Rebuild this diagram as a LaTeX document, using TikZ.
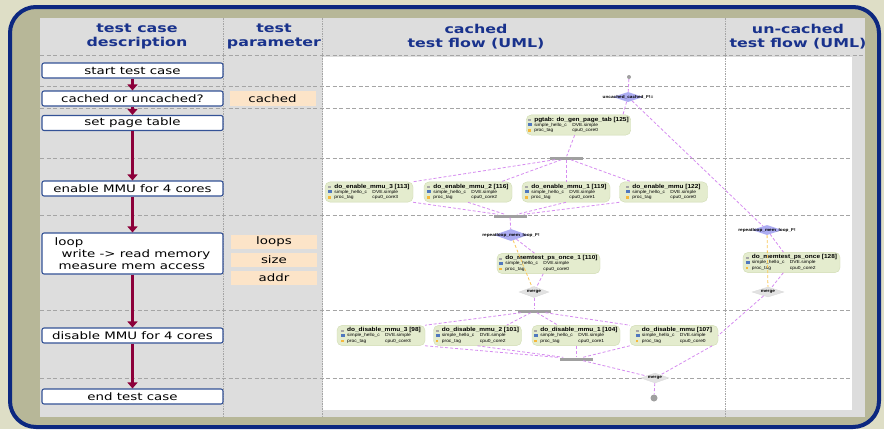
\documentclass[tikz,border=0pt]{standalone}
\usepackage{fontspec}
\setmainfont{DejaVu Sans}
\newfontfamily\umlfont[FakeStretch=1.12]{Liberation Sans}
\newfontfamily\widefont[FakeStretch=1.3]{DejaVu Sans}
\usetikzlibrary{arrows.meta,positioning,shapes.geometric}

\definecolor{khaki}{RGB}{222,222,198}
\definecolor{framblue}{RGB}{12,40,128}
\definecolor{olivebg}{RGB}{183,183,152}
\definecolor{panel}{RGB}{221,221,221}
\definecolor{headblue}{RGB}{25,50,140}
\definecolor{boxblue}{RGB}{52,82,150}
\definecolor{peach}{RGB}{252,228,200}
\definecolor{maroon}{RGB}{140,0,58}
\definecolor{sepgray}{RGB}{165,165,165}
\definecolor{flowpurple}{RGB}{214,140,240}
\definecolor{altorange}{RGB}{250,200,90}
\definecolor{actfill}{RGB}{228,236,206}
\definecolor{actline}{RGB}{208,220,178}
\definecolor{choiceblue}{RGB}{172,172,242}
\definecolor{mergegray}{RGB}{226,226,226}
\definecolor{bargray}{RGB}{160,160,160}
\definecolor{iconblue}{RGB}{80,120,190}
\definecolor{iconorange}{RGB}{245,185,60}

% body of one activity box of the UML flow
\newcommand{\actbody}[2]{%
  \begin{tabular}{@{}l@{\hspace{2pt}}p{38pt}@{}l@{}}
  \multicolumn{3}{@{}l@{}}{\textcolor{sepgray}{\rule{3pt}{2pt}}\hspace{3pt}{\fontsize{5.8}{6}\selectfont\bfseries #1}}\\
  \textcolor{iconblue}{\rule{4pt}{3pt}} & simple\_hello\_c & DVE.simple\\
  \textcolor{iconorange}{\rule{2.5pt}{2.5pt}} & proc\_tag & #2
  \end{tabular}}

\begin{document}
\begin{tikzpicture}[
  x=1pt, y=-1pt,
  stepbox/.style={draw=boxblue, line width=1.1pt, fill=white, rounded corners=2pt, minimum width=181pt, minimum height=15pt, inner sep=0pt, font=\widefont\fontsize{10.3}{11.8}\selectfont},
  param/.style={fill=peach, minimum width=86pt, minimum height=14pt, inner sep=0pt, font=\widefont\fontsize{10.3}{12}\selectfont},
  head/.style={align=center, text=headblue, font=\widefont\fontsize{12.2}{14}\selectfont\bfseries},
  seq/.style={draw=maroon, line width=2.6pt, -{Triangle[length=6pt,width=10pt]}},
  sep/.style={draw=sepgray, dash pattern=on 4pt off 2.5pt, line width=0.8pt},
  vsep/.style={draw=sepgray, dash pattern=on 1.5pt off 1pt, line width=0.7pt},
  act/.style={draw=actline, fill=actfill, rounded corners=5pt, inner sep=2pt, minimum width=88pt, minimum height=20pt, font=\umlfont\fontsize{4.4}{5.2}\selectfont},
  bar/.style={fill=bargray, minimum width=33pt, minimum height=3pt, inner sep=0pt},
  choice/.style={diamond, fill=choiceblue, minimum width=30pt, minimum height=10pt, inner sep=0pt},
  merge/.style={diamond, fill=mergegray, draw=white!85!black, line width=0.3pt, minimum width=30pt, minimum height=11pt, inner sep=0pt},
  tag/.style={inner sep=0pt, font=\umlfont\bfseries\fontsize{4.2}{5}\selectfont},
  flow/.style={draw=flowpurple, dash pattern=on 3pt off 2pt, line width=0.8pt},
  alt/.style={flow, draw=altorange}
]
\useasboundingbox (0,0) rectangle (884,429);
% frame and table background
\fill[khaki] (0,0) rectangle (884,429);
\draw[framblue, fill=olivebg, line width=4pt, rounded corners=26pt] (10,7) rectangle (879,427);
\fill[panel] (40,18) rectangle (865,417);
\fill[white] (323,57) rectangle (852,410);
\draw[sep] (40,55) -- (865,55);
\foreach \y in {86,108,158,215,310,378}
  \draw[sep] (40,\y) -- (852,\y);
\foreach \x in {223,322,725}
  \draw[vsep] (\x,18) -- (\x,417);

% column heads
\node[head] (hdesc) at (137,36) {test case\\description};
\node[head] (hparam) at (274,36) {test\\parameter};
\node[head] (hcached) at (476,37) {cached\\test flow (UML)};
\node[head] (huncached) at (798,37) {un-cached\\test flow (UML)};

% test case steps
\node[stepbox] (start) at (132.5,70.5) {start test case};
\node[stepbox] (cachq) at (132.5,98.5) {cached or uncached?};
\node[stepbox] (pgtab) at (132.5,123) {set page table};
\node[stepbox] (enmmu) at (132.5,188.5) {enable MMU for 4 cores};
\node[stepbox, minimum height=41pt, align=left] (loop) at (132.5,253.5) {loop\\\hspace{7pt}write -> read memory\\\hspace{4pt}measure mem access};
\node[stepbox] (dismmu) at (132.5,335.5) {disable MMU for 4 cores};
\node[stepbox] (stop) at (132.5,396.5) {end test case};
\draw[seq] (start) -- (cachq);
\draw[seq] (cachq) -- (pgtab);
\draw[seq] (pgtab) -- (enmmu);
\draw[seq] (enmmu) -- (loop);
\draw[seq] (loop) -- (dismmu);
\draw[seq] (dismmu) -- (stop);

% parameters
\node[param, minimum height=15pt] (pcached) at (272.5,98.5) {cached};
\node[param] (ploops) at (274,241.5) {loops};
\node[param] (psize) at (274,259.5) {size};
\node[param] (paddr) at (274,277.5) {addr};

% cached flow
\node[circle, fill=bargray, inner sep=0pt, minimum size=4pt] (init) at (629,77) {};
\node[choice] (dsel) at (628,97) {};
\node[tag] (dselt) at (dsel) {uncached\_cached\_F!=};
\node[act, minimum width=103pt] (gen) at (578.5,125) {\actbody{pgtab: do\_gen\_page\_tab [125]}{cpu0\_core0}};
\node[bar] (fork1) at (566,158) {};
\foreach \n/\cx/\title/\core in {en3/369/do\_enable\_mmu\_3 [113]/3, en2/468/do\_enable\_mmu\_2 [116]/2, en1/566/do\_enable\_mmu\_1 [119]/1, en0/663.5/do\_enable\_mmu [122]/0}
  \node[act] (\n) at (\cx,192) {\actbody{\title}{cpu0\_core\core}};
\node[bar] (join1) at (510,216) {};
\node[choice, minimum width=34pt, minimum height=12pt] (drep) at (511,235) {};
\node[tag] (drept) at (drep) {repeatloop\_mem\_loop\_F!};
\node[act, minimum width=103pt] (memc) at (548.5,263.5) {\actbody{do\_memtest\_ps\_once\_1 [110]}{cpu0\_core0}};
\node[merge] (mrg1) at (534,292) {};
\node[tag] (mrg1t) at (mrg1) {merge};
\node[bar] (fork2) at (534,311) {};
\foreach \n/\cx/\title/\core in {dis3/381/do\_disable\_mmu\_3 [98]/3, dis2/477.5/do\_disable\_mmu\_2 [101]/2, dis1/576/do\_disable\_mmu\_1 [104]/1, dis0/674/do\_disable\_mmu [107]/0}
  \node[act] (\n) at (\cx,335.5) {\actbody{\title}{cpu0\_core\core}};
\node[bar] (join2) at (576,359) {};
\node[merge, minimum width=28pt, minimum height=10pt] (mrgf) at (655,378) {};
\node[tag] (mrgft) at (mrgf) {merge};
\node[circle, fill=bargray, inner sep=0pt, minimum size=7pt] (final) at (654,398) {};

% un-cached flow
\node[choice] (drepu) at (767,230) {};
\node[tag] (dreput) at (drepu) {repeatloop\_mem\_loop\_F!};
\node[act, minimum width=97pt] (memu) at (791.5,262.5) {\actbody{do\_memtest\_ps\_once [128]}{cpu0\_core2}};
\node[merge, minimum width=32pt, minimum height=10pt] (mrgu) at (768,292) {};
\node[tag] (mrgut) at (mrgu) {merge};

% connectors
\draw[flow] (init) -- (dsel);
\draw[flow] (dsel) -- ([xshift=-8pt]gen.north east);
\draw[flow] (dsel) -- (drepu);
\draw[flow] (gen) -- (fork1);
\draw[flow] (fork1) -- (en3.north east);
\draw[flow] (fork1) -- ([xshift=-11pt]en2.north east);
\draw[flow] (fork1) -- (en1.north);
\draw[flow] (fork1) -- ([xshift=12pt]en0.north west);
\draw[flow] (en3.south east) -- (join1);
\draw[flow] (en2.south) -- (join1);
\draw[flow] (en1.south) -- (join1);
\draw[flow] (en0.south west) -- (join1);
\draw[flow] (join1) -- (drep);
\draw[flow] (drep) -- ([xshift=-14pt]memc.north);
\draw[alt] (drep) -- (mrg1);
\draw[flow] (memc) -- (mrg1);
\draw[flow] (mrg1) -- (fork2);
\draw[flow] (fork2) -- (dis3.north east);
\draw[flow] (fork2) -- ([xshift=-15pt]dis2.north east);
\draw[flow] (fork2) -- ([xshift=-18pt]dis1.north);
\draw[flow] (fork2) -- (dis0.north west);
\draw[flow] (dis3.south east) -- (join2);
\draw[flow] (dis2.south) -- (join2);
\draw[flow] (dis1.south) -- (join2);
\draw[flow] (dis0.south west) -- (join2);
\draw[flow] (join2) -- (mrgf);
\draw[flow] ([xshift=-6pt]dis0.south east) -- (mrgf);
\draw[flow] (mrgf) -- (final);
\draw[flow] (drepu) -- ([xshift=-8pt]memu.north);
\draw[alt] (drepu) -- (mrgu);
\draw[flow] (memu) -- (mrgu);
\draw[flow] (mrgu) -- (dis0.east);
\end{tikzpicture}
\end{document}
